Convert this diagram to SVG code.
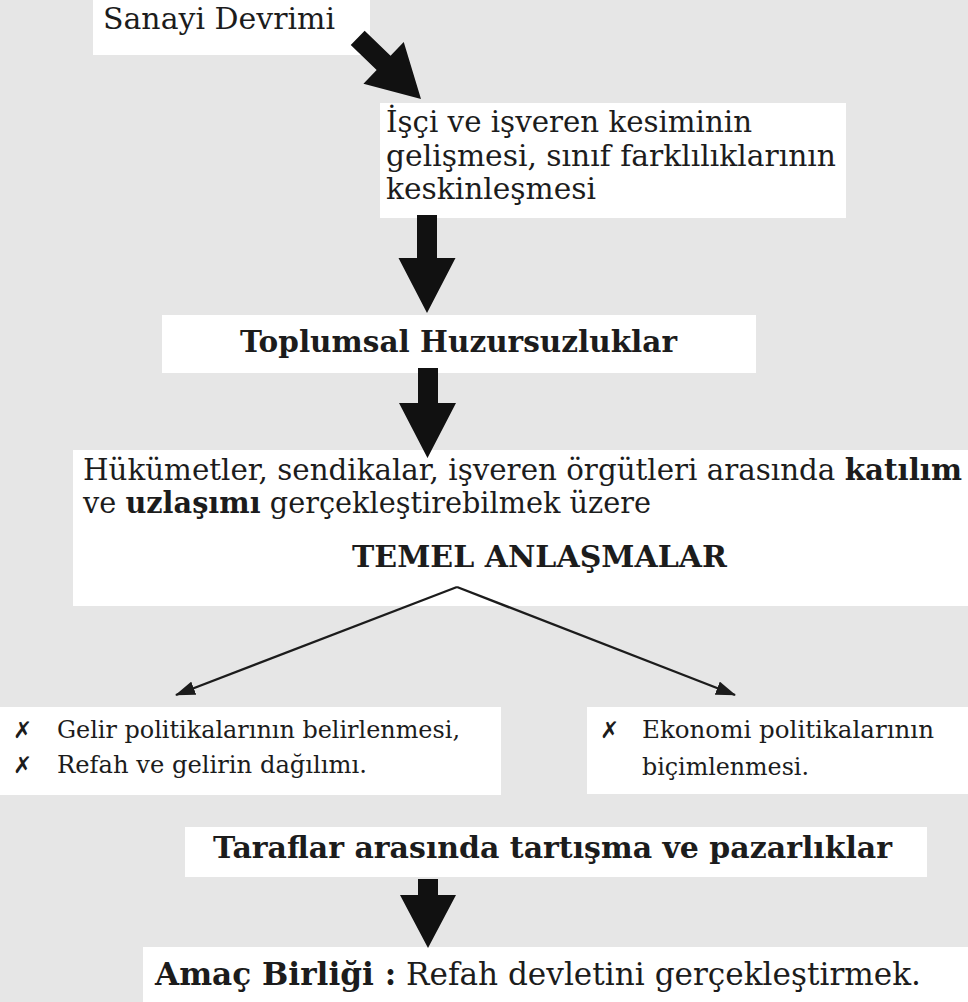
<svg xmlns="http://www.w3.org/2000/svg" width="968" height="1002" viewBox="0 0 968 1002">
<defs>
<style>
.bg{fill:#e6e6e6}
.box{fill:#ffffff}
.t{font-family:"DejaVu Serif","Liberation Serif",serif;fill:#1c1c1c}
.b{font-weight:bold}
.x{font-family:"DejaVu Sans",sans-serif;fill:#1c1c1c}
.big{fill:#111111}
.thin{stroke:#1c1c1c;stroke-width:2.4;fill:none}
</style>
<marker id="ah" viewBox="0 0 20 14" refX="19" refY="7" markerWidth="20" markerHeight="14" markerUnits="userSpaceOnUse" orient="auto">
<path d="M0,0 L20,7 L0,14 Z" fill="#1c1c1c"/>
</marker>
</defs>
<rect class="bg" x="0" y="0" width="968" height="1002"/>

<g id="node-sanayi">
<rect class="box" x="93" y="0" width="277" height="55"/>
<text class="t" x="103" y="29" font-size="30" textLength="232" lengthAdjust="spacingAndGlyphs">Sanayi Devrimi</text>
</g>

<g id="node-isci">
<rect class="box" x="380" y="103" width="466" height="115"/>
<text class="t" x="386" y="132" font-size="29" textLength="366" lengthAdjust="spacingAndGlyphs">İşçi ve işveren kesiminin</text>
<text class="t" x="386" y="166" font-size="29" textLength="450" lengthAdjust="spacingAndGlyphs">gelişmesi, sınıf farklılıklarının</text>
<text class="t" x="386" y="199" font-size="29" textLength="210" lengthAdjust="spacingAndGlyphs">keskinleşmesi</text>
</g>

<g id="node-toplumsal">
<rect class="box" x="162" y="315" width="594" height="58"/>
<text class="t b" x="240" y="352" font-size="29" textLength="437" lengthAdjust="spacingAndGlyphs">Toplumsal Huzursuzluklar</text>
</g>

<g id="node-temel">
<rect class="box" x="73" y="450" width="895" height="156"/>
<text class="t" x="83" y="480" font-size="29" textLength="879" lengthAdjust="spacingAndGlyphs">Hükümetler, sendikalar, işveren örgütleri arasında <tspan class="b">katılım</tspan></text>
<text class="t" x="83" y="513" font-size="29" textLength="568" lengthAdjust="spacingAndGlyphs">ve <tspan class="b">uzlaşımı</tspan> gerçekleştirebilmek üzere</text>
<text class="t b" x="352" y="567" font-size="29" textLength="375" lengthAdjust="spacingAndGlyphs">TEMEL ANLAŞMALAR</text>
</g>

<g id="node-gelir">
<rect class="box" x="0" y="707" width="501" height="88"/>
<text class="x" x="13" y="738" font-size="23">✗</text>
<text class="t" x="57" y="738" font-size="24" textLength="403" lengthAdjust="spacingAndGlyphs">Gelir politikalarının belirlenmesi,</text>
<text class="x" x="13" y="773" font-size="23">✗</text>
<text class="t" x="57" y="773" font-size="24" textLength="310" lengthAdjust="spacingAndGlyphs">Refah ve gelirin dağılımı.</text>
</g>

<g id="node-ekonomi">
<rect class="box" x="587" y="707" width="381" height="87"/>
<text class="x" x="600" y="738" font-size="23">✗</text>
<text class="t" x="642" y="738" font-size="24" textLength="292" lengthAdjust="spacingAndGlyphs">Ekonomi politikalarının</text>
<text class="t" x="642" y="775" font-size="24" textLength="167" lengthAdjust="spacingAndGlyphs">biçimlenmesi.</text>
</g>

<g id="node-taraflar">
<rect class="box" x="185" y="827" width="742" height="50"/>
<text class="t b" x="213" y="858" font-size="29" textLength="679" lengthAdjust="spacingAndGlyphs">Taraflar arasında tartışma ve pazarlıklar</text>
</g>

<g id="node-amac">
<rect class="box" x="143" y="947" width="825" height="55"/>
<text class="t" x="155" y="985" font-size="32" textLength="766" lengthAdjust="spacingAndGlyphs"><tspan class="b">Amaç Birliği :</tspan> Refah devletini gerçekleştirmek.</text>
</g>

<g id="connectors">
<polygon class="big" transform="translate(421,99) rotate(44)" points="0,0 -52,-29 -52,-10 -88,-10 -88,10 -52,10 -52,29"/>
<polygon class="big" points="427,313 398.5,258 417,258 417,215 437,215 437,258 455.5,258"/>
<polygon class="big" points="427.5,458 399,403 418,403 418,368 438,368 438,403 456,403"/>
<line class="thin" x1="457" y1="587" x2="176" y2="695" marker-end="url(#ah)"/>
<line class="thin" x1="457" y1="587" x2="735" y2="695" marker-end="url(#ah)"/>
<polygon class="big" points="428,948 400,895 418,895 418,879 438,879 438,895 456,895"/>
</g>
</svg>
